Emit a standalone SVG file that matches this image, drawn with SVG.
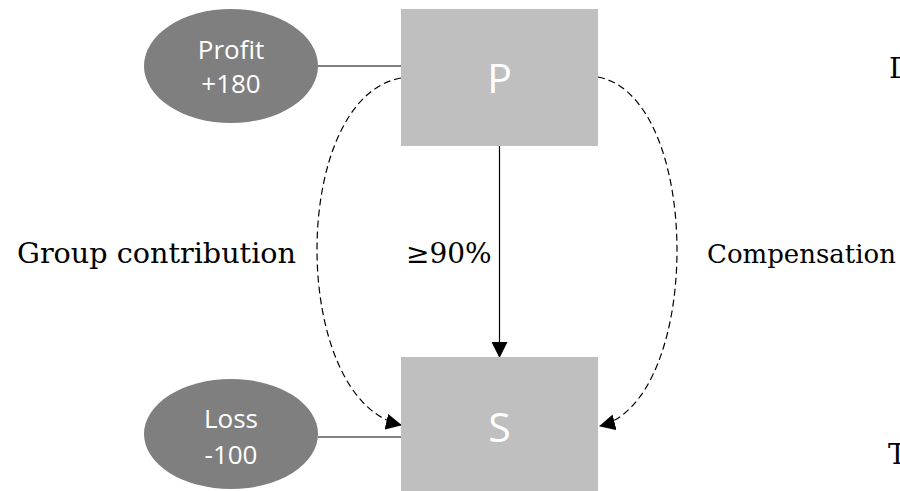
<svg xmlns="http://www.w3.org/2000/svg" width="900" height="491" viewBox="0 0 900 491">
<defs>
<style>
.box{fill:#bfbfbf}
.ell{fill:#7f7f7f}
.wl{font-family:"Open Sans","Noto Sans",sans-serif;fill:#ffffff;text-anchor:middle}
.big{font-size:41px}
.sm{font-size:26px}
.ser{font-family:"DejaVu Serif","Liberation Serif",serif;font-size:28px;fill:#000}
.solid{stroke:#000;stroke-width:1.2;fill:none}
.grey{stroke:#595959;stroke-width:1.6;fill:none}
.dash{stroke:#000;stroke-width:1.2;fill:none;stroke-dasharray:7 4}
</style>
<marker id="ah" markerUnits="userSpaceOnUse" markerWidth="16" markerHeight="16" viewBox="0 0 16 16" refX="15" refY="8" orient="auto">
<path d="M0,0 L16,8 L0,16 Z" fill="#000"/>
</marker>
</defs>
<rect width="900" height="491" fill="#fff"/>
<g id="connectors">
<line class="solid" x1="318" y1="66" x2="401" y2="66"/>
<line class="grey" x1="318" y1="437" x2="401" y2="437"/>
<line class="solid" x1="499.5" y1="146" x2="499.5" y2="357" marker-end="url(#ah)"/>
<path class="dash" d="M401,78 C289,98 289,400 401,425" marker-end="url(#ah)"/>
<path class="dash" d="M598,77 C703,97 703,400 600,426" marker-end="url(#ah)"/>
</g>
<g id="P">
<rect class="box" x="401" y="9" width="197" height="137"/>
<text class="wl big" x="499.5" y="93">P</text>
</g>
<g id="S">
<rect class="box" x="401" y="357" width="197" height="137"/>
<text class="wl big" x="499.5" y="442">S</text>
</g>
<g id="profit">
<ellipse class="ell" cx="231" cy="66" rx="87" ry="57"/>
<text class="wl sm" x="231" y="59">Profit</text>
<text class="wl sm" x="231" y="93">+180</text>
</g>
<g id="loss">
<ellipse class="ell" cx="231" cy="434" rx="87" ry="55"/>
<text class="wl sm" x="231" y="428">Loss</text>
<text class="wl sm" x="231" y="464">-100</text>
</g>
<g id="labels">
<text class="ser" x="17" y="263" textLength="279" lengthAdjust="spacingAndGlyphs">Group contribution</text>
<text class="ser" x="406" y="263">≥90%</text>
<text class="ser" x="707" y="263" style="font-size:26px">Compensation</text>
<text class="ser" x="889" y="78">D</text>
<text class="ser" x="888" y="464">T</text>
</g>
</svg>
